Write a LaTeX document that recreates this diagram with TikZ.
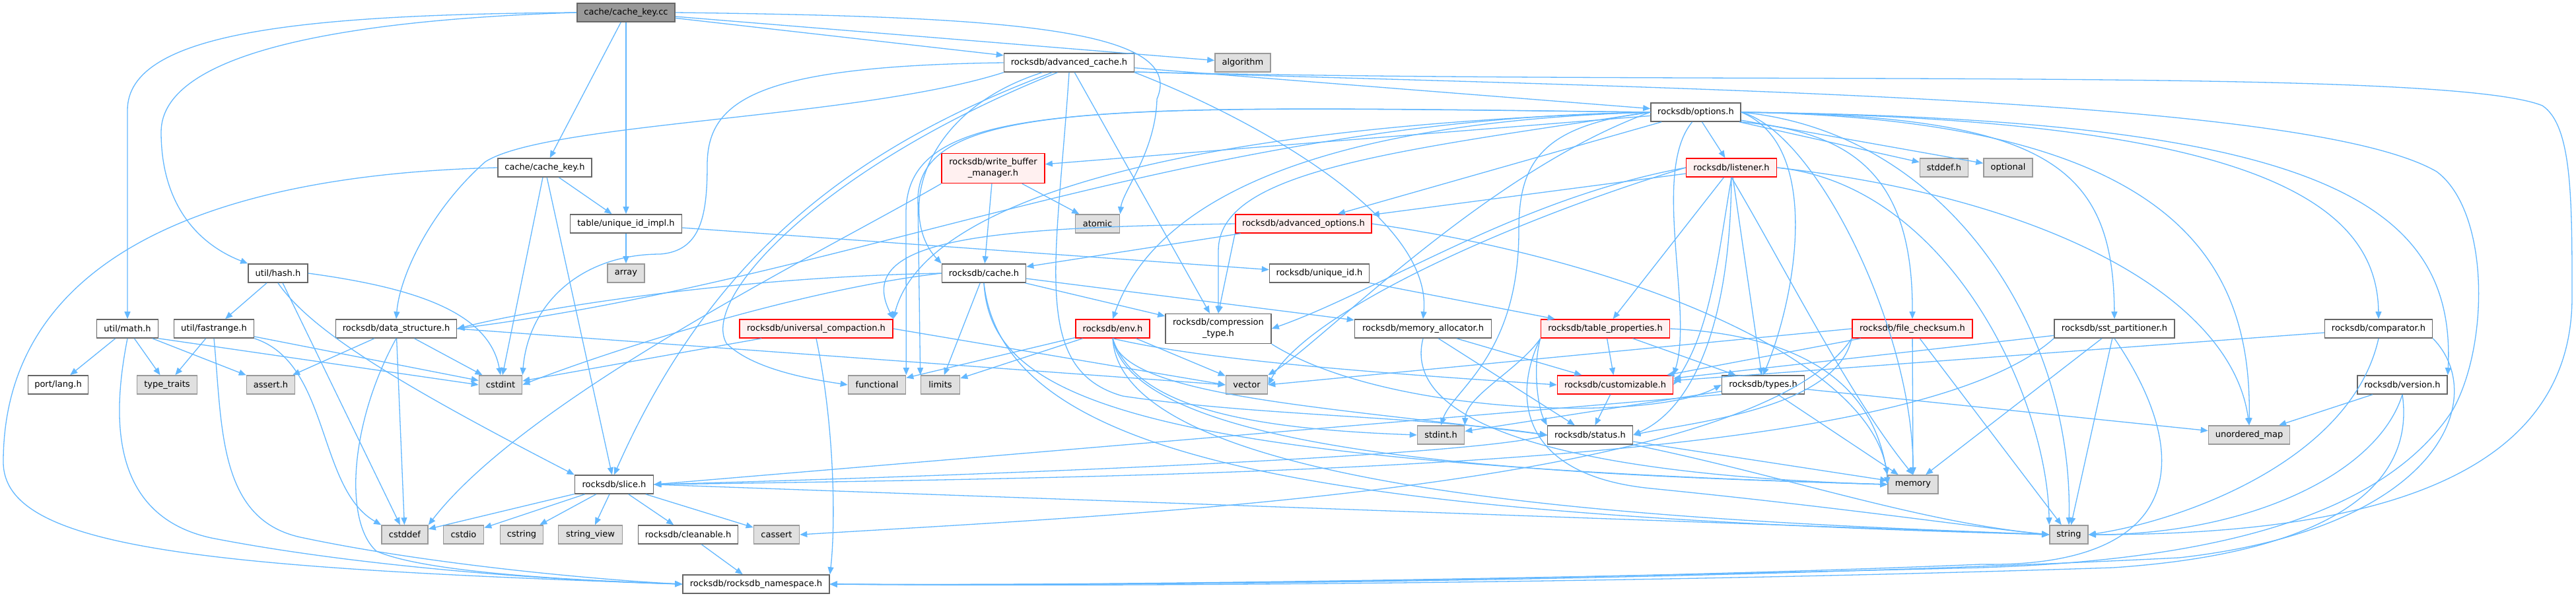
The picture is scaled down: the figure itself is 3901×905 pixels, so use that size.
\documentclass[tikz,border=0pt]{standalone}
\usepackage{fontspec}
\setmainfont{DejaVu Sans}
\usetikzlibrary{arrows.meta}
\definecolor{edgeblue}{RGB}{99,184,255}
\definecolor{sysfill}{RGB}{224,224,224}
\definecolor{sysline}{RGB}{153,153,153}
\definecolor{truncfill}{RGB}{255,240,240}
\definecolor{rootfill}{RGB}{153,153,153}
\definecolor{fileline}{RGB}{102,102,102}

\begin{document}
\begin{tikzpicture}[x=1pt, y=-1pt, >={Triangle[length=11pt,width=9pt]},
    file/.style={draw=fileline, fill=white, line width=1.6pt, minimum height=28pt,
      inner sep=0pt, align=center, font=\fontsize{13pt}{17pt}\selectfont},
    sys/.style={file, draw=sysline, fill=sysfill},
    trunc/.style={file, draw=red, fill=truncfill},
    root/.style={file, fill=rootfill},
    dep/.style={->, draw=edgeblue, line width=1.3pt}]

    \path[use as bounding box, fill=white] (0,0) rectangle (3901,905);

    % -- files, rank by rank --
    \node[root, minimum width=148pt] (ckcc) at (948,19) {cache/cache\_key.cc};

    \node[file, minimum width=197pt] (advcache) at (1619,95) {rocksdb/advanced\_cache.h};
    \node[sys, minimum width=84pt] (algorithm) at (1882,95) {algorithm};

    \node[file, minimum width=136pt] (options) at (2568,170) {rocksdb/options.h};

    \node[file, minimum width=142pt] (ckh) at (825,254) {cache/cache\_key.h};
    \node[trunc, minimum width=156pt, minimum height=45pt] (wbm) at (1504,255) {rocksdb/write\_buffer\\\_manager.h};
    \node[trunc, minimum width=137pt] (listener) at (2622,254) {rocksdb/listener.h};
    \node[sys, minimum width=73pt] (stddefh) at (2944,254) {stddef.h};
    \node[sys, minimum width=74pt] (optional) at (3041,254) {optional};

    \node[file, minimum width=169pt] (uidimpl) at (948,339) {table/unique\_id\_impl.h};
    \node[sys, minimum width=67pt] (atomic) at (1662,339) {atomic};
    \node[trunc, minimum width=206pt] (advopts) at (1974,339) {rocksdb/advanced\_options.h};

    \node[file, minimum width=90pt] (hash) at (421,414) {util/hash.h};
    \node[sys, minimum width=56pt] (array) at (948,414) {array};
    \node[file, minimum width=127pt] (cache) at (1490,414) {rocksdb/cache.h};
    \node[file, minimum width=151pt] (uid) at (1998,414) {rocksdb/unique\_id.h};

    \node[file, minimum width=93pt] (math) at (193,498) {util/math.h};
    \node[file, minimum width=121pt] (fastrange) at (324,498) {util/fastrange.h};
    \node[file, minimum width=183pt] (datastruct) at (600,498) {rocksdb/data\_structure.h};
    \node[trunc, minimum width=232pt] (univcomp) at (1236,498) {rocksdb/universal\_compaction.h};
    \node[trunc, minimum width=112pt] (env) at (1685,498) {rocksdb/env.h};
    \node[file, minimum width=160pt, minimum height=45pt] (comptype) at (1845,498) {rocksdb/compression\\\_type.h};
    \node[file, minimum width=207pt] (memalloc) at (2155,498) {rocksdb/memory\_allocator.h};
    \node[trunc, minimum width=195pt] (tableprops) at (2431,498) {rocksdb/table\_properties.h};
    \node[trunc, minimum width=182pt] (filechecksum) at (2896,498) {rocksdb/file\_checksum.h};
    \node[file, minimum width=182pt] (sstpart) at (3202,498) {rocksdb/sst\_partitioner.h};
    \node[file, minimum width=163pt] (comparator) at (3602,498) {rocksdb/comparator.h};

    \node[file, minimum width=91pt] (lang) at (88,583) {port/lang.h};
    \node[sys, minimum width=91pt] (typetraits) at (253,583) {type\_traits};
    \node[sys, minimum width=73pt] (assert) at (410,583) {assert.h};
    \node[sys, minimum width=65pt] (cstdint) at (758,583) {cstdint};
    \node[sys, minimum width=87pt] (functional) at (1328,583) {functional};
    \node[sys, minimum width=59pt] (limits) at (1424,583) {limits};
    \node[sys, minimum width=63pt] (vector) at (1888,583) {vector};
    \node[trunc, minimum width=175pt] (customizable) at (2446,583) {rocksdb/customizable.h};
    \node[file, minimum width=125pt] (types) at (2670,583) {rocksdb/types.h};
    \node[file, minimum width=136pt] (version) at (3638,583) {rocksdb/version.h};

    \node[sys, minimum width=71pt] (stdinth) at (2182,659) {stdint.h};
    \node[file, minimum width=129pt] (status) at (2408,659) {rocksdb/status.h};
    \node[sys, minimum width=123pt] (unorderedmap) at (3406,659) {unordered\_map};

    \node[file, minimum width=119pt] (slice) at (930,734) {rocksdb/slice.h};
    \node[sys, minimum width=76pt] (memory) at (2897,734) {memory};

    \node[sys, minimum width=70pt] (cstddef) at (613,810) {cstddef};
    \node[sys, minimum width=61pt] (cstdio) at (702,810) {cstdio};
    \node[sys, minimum width=65pt] (cstring) at (790,810) {cstring};
    \node[sys, minimum width=97pt] (stringview) at (894,810) {string\_view};
    \node[file, minimum width=151pt] (cleanable) at (1042,810) {rocksdb/cleanable.h};
    \node[sys, minimum width=69pt] (cassert) at (1176,810) {cassert};
    \node[sys, minimum width=58pt] (string) at (3133,810) {string};

    \node[file, minimum width=222pt] (ns) at (1145,885) {rocksdb/rocksdb\_namespace.h};

    % -- short includes: straight arrows --
    \foreach \a/\b in {ckcc/ckh, ckcc/uidimpl, ckcc/advcache, ckcc/algorithm,
        ckh/uidimpl, ckh/cstdint, ckh/slice, uidimpl/array, uidimpl/uid, uid/tableprops,
        hash/fastrange, hash/cstddef, math/lang, math/typetraits, math/assert,
        fastrange/typetraits, fastrange/cstdint,
        datastruct/assert, datastruct/cstddef, datastruct/cstdint,
        slice/cstddef, slice/cstdio, slice/cstring, slice/stringview, slice/cleanable, slice/cassert,
        cleanable/ns, univcomp/cstdint, advcache/options, advcache/comptype,
        wbm/atomic, wbm/cache, advopts/cache, cache/limits, cache/comptype, cache/memalloc,
        env/functional, env/limits, env/vector, memalloc/customizable, memalloc/status,
        tableprops/customizable, tableprops/types, customizable/status,
        options/listener, options/stddefh, options/optional, options/wbm, options/advopts,
        listener/advopts, listener/tableprops, listener/types,
        types/stdinth, types/memory, types/unorderedmap,
        filechecksum/memory, filechecksum/string, filechecksum/customizable,
        sstpart/memory, sstpart/string, sstpart/customizable,
        comparator/customizable, version/unorderedmap, status/memory}
        \draw[dep] (\a) -- (\b);

    \draw[dep] (math.south east) -- (cstdint.west);
    \draw[dep] (datastruct.east) -- (vector.west);
    \draw[dep] (univcomp.east) -- (vector.west);
    \draw[dep] (slice.east) -- (string.west);
    \draw[dep] (types.south west) -- (slice.east);
    \draw[dep] (filechecksum.west) -- (vector.east);
    \draw[dep] (advopts.south west) -- (comptype.north);

    % -- root: round the left side and over to atomic --
    \draw[dep] (ckcc.west) .. controls (450,22) and (193,50) .. (193,167) -- (math.north);
    \draw[dep] (ckcc.west) .. controls (520,30) and (244,80) .. (244,200)
        .. controls (244,310) and (300,370) .. (hash.north west);
    \draw[dep] (ckcc.east) .. controls (1500,25) and (1800,40) .. (1752,150)
        .. controls (1750,230) and (1700,290) .. (atomic.north east);

    % -- down the left edge into rocksdb_namespace.h --
    \draw[dep] (ckh.west) .. controls (300,265) and (5,400) .. (5,700)
        .. controls (5,830) and (300,860) .. (ns.west);
    \draw[dep] (math.south) .. controls (172,620) and (160,780) .. (320,815)
        .. controls (550,860) and (850,880) .. (ns.west);
    \draw[dep] (fastrange.south) .. controls (337,650) and (330,790) .. (460,815)
        .. controls (650,855) and (900,878) .. (ns.west);
    \draw[dep] (datastruct.south) .. controls (530,640) and (520,790) .. (570,835)
        .. controls (650,870) and (900,880) .. (ns.west);
    \draw[dep] (fastrange.south east) .. controls (500,550) and (480,740) .. (cstddef.north west);
    \draw[dep] (hash.south) .. controls (470,500) and (600,580) .. (slice.north west);
    \draw[dep] (hash.east) .. controls (620,435) and (740,470) .. (cstdint.north);

    % -- rocksdb/advanced_cache.h --
    \draw[dep] (advcache.west) .. controls (1150,100) and (1071,150) .. (1071,250)
        .. controls (1071,330) and (1060,380) .. (1000,385)
        .. controls (880,385) and (800,460) .. (cstdint.north east);
    \draw[dep] (advcache.south west) .. controls (1300,180) and (830,185) .. (735,245)
        .. controls (650,320) and (605,420) .. (datastruct.north);
    \draw[dep] (advcache.200) .. controls (1390,170) and (1360,330) .. (cache.north west);
    \draw[dep] (advcache.210) .. controls (1300,220) and (1080,380) .. (slice.north);
    \draw[dep] (advcache.220) .. controls (1250,250) and (1060,450) .. (1100,520)
        .. controls (1140,560) and (1230,575) .. (functional.west);
    \draw[dep] (advcache.south) .. controls (1600,400) and (1560,560) .. (1700,600)
        .. controls (1900,630) and (2150,630) .. (status.west);
    \draw[dep] (advcache.south east) .. controls (1900,180) and (2170,330) .. (memalloc.north);
    \draw[dep] (advcache.352) .. controls (2600,130) and (3700,100) .. (3850,160)
        .. controls (3895,190) and (3895,300) .. (3895,450)
        .. controls (3895,720) and (3600,810) .. (string.east);
    \draw[dep] (advcache.352) .. controls (2600,135) and (3500,150) .. (3690,260)
        .. controls (3770,320) and (3770,520) .. (3715,620)
        .. controls (3600,800) and (3300,850) .. (3000,860)
        .. controls (2400,875) and (1700,888) .. (ns.east);

    % -- rocksdb/options.h --
    \draw[dep] (options.west) .. controls (2000,185) and (1750,300) .. (env.north);
    \draw[dep] (options.west) .. controls (2100,230) and (1845,260) .. (1845,380) -- (comptype.north);
    \draw[dep] (options.west) .. controls (1800,190) and (1400,300) .. (univcomp.north east);
    \draw[dep] (options.west) .. controls (1800,180) and (1300,420) .. (datastruct.east);
    \draw[dep] (options.250) .. controls (2500,260) and (2565,470) .. (customizable.north east);
    \draw[dep] (options.west) .. controls (2330,190) and (2300,250) .. (2300,350)
        .. controls (2300,540) and (2200,590) .. (stdinth.north);
    \draw[dep] (options.west) .. controls (2250,260) and (2000,520) .. (vector.north east);
    \draw[dep] (options.west) .. controls (1700,160) and (1395,150) .. (1390,300) -- (limits.north west);
    \draw[dep] (options.west) .. controls (1650,160) and (1375,150) .. (1372,320) -- (functional.north east);
    \draw[dep] (options.east) .. controls (2750,200) and (2897,500) .. (memory.north);
    \draw[dep] (options.east) .. controls (2950,200) and (3140,500) .. (string.north);
    \draw[dep] (options.east) .. controls (3300,180) and (3410,400) .. (unorderedmap.north);
    \draw[dep] (options.east) .. controls (3400,180) and (3600,300) .. (comparator.north);
    \draw[dep] (options.east) .. controls (3500,180) and (3720,300) .. (version.north east);
    \draw[dep] (options.east) .. controls (2760,220) and (2720,450) .. (types.north);
    \draw[dep] (options.south east) .. controls (2800,200) and (2897,260) .. (filechecksum.north);
    \draw[dep] (options.east) .. controls (3100,175) and (3200,250) .. (sstpart.north);

    % -- rocksdb/listener.h --
    \draw[dep] (listener.west) .. controls (2300,300) and (2090,440) .. (comptype.east);
    \draw[dep] (listener.west) .. controls (2300,330) and (1980,470) .. (vector.east);
    \draw[dep] (listener.south) .. controls (2600,400) and (2590,500) .. (customizable.east);
    \draw[dep] (listener.south) .. controls (2620,500) and (2560,620) .. (status.east);
    \draw[dep] (listener.south) .. controls (2700,400) and (2800,600) .. (memory.north);
    \draw[dep] (listener.east) .. controls (2950,280) and (3100,600) .. (string.north west);
    \draw[dep] (listener.east) .. controls (3100,300) and (3380,450) .. (unorderedmap.north);

    % -- rocksdb/env.h --
    \draw[dep] (env.south) .. controls (1720,620) and (1900,650) .. (stdinth.west);
    \draw[dep] (env.south) .. controls (1800,540) and (2000,560) .. (customizable.west);
    \draw[dep] (env.south) .. controls (1700,600) and (2000,615) .. (status.west);
    \draw[dep] (env.south) .. controls (1720,700) and (2400,720) .. (memory.west);
    \draw[dep] (env.south) .. controls (1700,760) and (2600,790) .. (string.west);

    % -- the rest of the middle band --
    \draw[dep] (cache.west) .. controls (1200,440) and (900,540) .. (cstdint.east);
    \draw[dep] (cache.west) .. controls (1100,420) and (800,470) .. (datastruct.east);
    \draw[dep] (cache.south) .. controls (1500,600) and (1700,700) .. (memory.west);
    \draw[dep] (cache.south) .. controls (1520,700) and (2000,780) .. (string.west);
    \draw[dep] (advopts.west) .. controls (1500,345) and (1290,360) .. (univcomp.north east);
    \draw[dep] (advopts.east) .. controls (2500,400) and (2850,560) .. (memory.west);
    \draw[dep] (wbm.south west) .. controls (1250,380) and (800,600) .. (cstddef.north east);
    \draw[dep] (comptype.south east) .. controls (2100,630) and (2500,640) .. (types.west);
    \draw[dep] (memalloc.south) .. controls (2120,650) and (2400,720) .. (memory.west);
    \draw[dep] (tableprops.south west) .. controls (2300,560) and (2220,600) .. (stdinth.north east);
    \draw[dep] (tableprops.south west) .. controls (2320,560) and (2330,620) .. (status.north west);
    \draw[dep] (tableprops.east) .. controls (2780,510) and (2840,620) .. (memory.north west);
    \draw[dep] (tableprops.south west) .. controls (2290,600) and (2300,720) .. (2500,740)
        .. controls (2800,770) and (3000,800) .. (string.west);
    \draw[dep] (status.west) .. controls (2250,690) and (1500,720) .. (slice.east);
    \draw[dep] (status.south east) .. controls (2700,720) and (2900,790) .. (string.west);
    \draw[dep] (filechecksum.south west) .. controls (2650,740) and (1700,780) .. (cassert.east);
    \draw[dep] (filechecksum.south west) .. controls (2780,620) and (2560,640) .. (status.east);
    \draw[dep] (univcomp.south) .. controls (1265,650) and (1265,800) .. (ns.north east);

    % -- right-hand headers back to string / rocksdb_namespace.h --
    \draw[dep] (sstpart.south west) .. controls (2900,700) and (2000,720) .. (slice.east);
    \draw[dep] (sstpart.south) .. controls (3330,700) and (3300,860) .. (3000,855)
        .. controls (2400,880) and (1600,888) .. (ns.east);
    \draw[dep] (comparator.south) .. controls (3560,700) and (3300,790) .. (string.east);
    \draw[dep] (comparator.south east) .. controls (3770,600) and (3700,800) .. (3300,845)
        .. controls (2600,880) and (1700,888) .. (ns.east);
    \draw[dep] (version.south) .. controls (3600,720) and (3400,810) .. (string.east);
    \draw[dep] (version.south) .. controls (3660,750) and (3500,840) .. (3200,860)
        .. controls (2600,880) and (1800,890) .. (ns.east);

\end{tikzpicture}
\end{document}
